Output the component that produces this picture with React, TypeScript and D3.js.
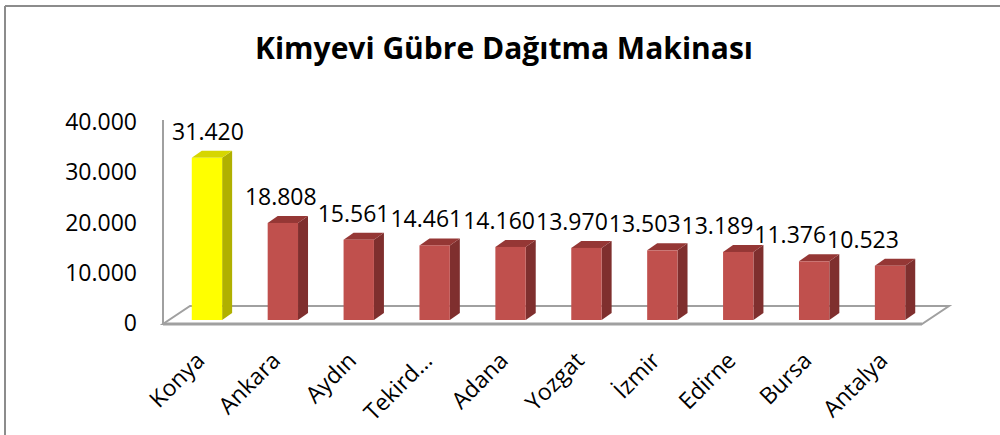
import React from "react";
import * as d3 from "d3";

const title = "Kimyevi Gübre Dağıtma Makinası";
const categories = ["Konya", "Ankara", "Aydın", "Tekird…", "Adana", "Yozgat", "İzmir", "Edirne", "Bursa", "Antalya"];
const values = [31420, 18808, 15561, 14461, 14160, 13970, 13503, 13189, 11376, 10523];
const highlighted = ["Konya"];
const yTicks = [0, 10000, 20000, 30000, 40000];

const fmt = (v: number) => (v === 0 ? "0" : d3.format(",.0f")(v).replace(/,/g, "."));

export default function App() {
  const W = 1000, H = 435;
  const floorLeft = 163, floorRight = 922, floorFrontY = 324;
  const depthDX = 27, depthDY = -18;
  const barDX = 10, barDY = -7;
  const barFrontBottom = 320;

  const x = d3.scaleBand<string>().domain(categories).range([floorLeft, floorRight]).paddingInner(0.6).paddingOuter(0.3);
  const xCat = d3.scaleBand<string>().domain(categories).range([floorLeft, floorRight]);
  const yBar = d3.scaleLinear().domain([0, 40000]).range([barFrontBottom, barFrontBottom - 206.4]);
  const yAxis = d3.scaleLinear().domain([0, 40000]).range([323, 122]);
  const labelX = d3.scalePoint<string>().domain(categories).range([208, 863]);

  const bw = x.bandwidth();
  const shift = 6;

  const font = "'Open Sans', sans-serif";

  return (
    <svg width={W} height={H} style={{ position: "absolute", left: 0, top: 0 }}>
      <rect x={0} y={0} width={W} height={H} fill="#fff" />
      <line x1={5} y1={6} x2={W} y2={6} stroke="#8c8c8c" strokeWidth={2} />
      <line x1={5} y1={6} x2={5} y2={H} stroke="#8c8c8c" strokeWidth={2} />

      <text x={504} y={59} textAnchor="middle" fontFamily={font} fontWeight="bold" fontSize={30} fill="#000" textLength={498} lengthAdjust="spacingAndGlyphs">
        {title}
      </text>

      <polygon
        points={`${floorLeft},${floorFrontY} ${floorRight},${floorFrontY} ${floorRight + depthDX},${floorFrontY + depthDY} ${floorLeft + depthDX},${floorFrontY + depthDY}`}
        fill="#fff"
        stroke="#a0a0a0"
        strokeWidth={2}
      />
      <line x1={floorLeft} y1={floorFrontY} x2={floorRight} y2={floorFrontY} stroke="#a0a0a0" strokeWidth={3} />
      <line x1={floorLeft} y1={yAxis(40000) - 2} x2={floorLeft} y2={floorFrontY + 1} stroke="#a0a0a0" strokeWidth={2} />

      {yTicks.map((t) => (
        <text key={t} x={137} y={yAxis(t)} dy="0.35em" textAnchor="end" fontFamily={font} fontSize={23} fill="#000">
          {fmt(t)}
        </text>
      ))}

      {categories.map((c, i) => {
        const v = values[i];
        const x0 = (x(c) as number) + shift;
        const x1 = x0 + bw;
        const yt = yBar(v);
        const yb = barFrontBottom;
        const hi = highlighted.includes(c);
        const front = hi ? "#ffff00" : "#c0504d";
        const side = hi ? "#b0b000" : "#7f2f2e";
        const top = hi ? "#d6d600" : "#953735";
        return (
          <g key={c}>
            <polygon points={`${x1},${yt} ${x1 + barDX},${yt + barDY} ${x1 + barDX},${yb + barDY} ${x1},${yb}`} fill={side} />
            <polygon points={`${x0},${yt} ${x1},${yt} ${x1 + barDX},${yt + barDY} ${x0 + barDX},${yt + barDY}`} fill={top} />
            <rect x={x0} y={yt} width={bw} height={yb - yt} fill={front} />
          </g>
        );
      })}

      {categories.map((c, i) => (
        <text key={"v" + c} x={labelX(c)} y={yBar(values[i]) - 18} textAnchor="middle" fontFamily={font} fontSize={23} fill="#000">
          {fmt(values[i])}
        </text>
      ))}

      {categories.map((c) => {
        const cx = (xCat(c) as number) + xCat.bandwidth() / 2 + 5;
        return (
          <text key={"c" + c} transform={`translate(${cx},362) rotate(-45)`} textAnchor="end" fontFamily={font} fontSize={23} fill="#000">
            {c}
          </text>
        );
      })}
    </svg>
  );
}
